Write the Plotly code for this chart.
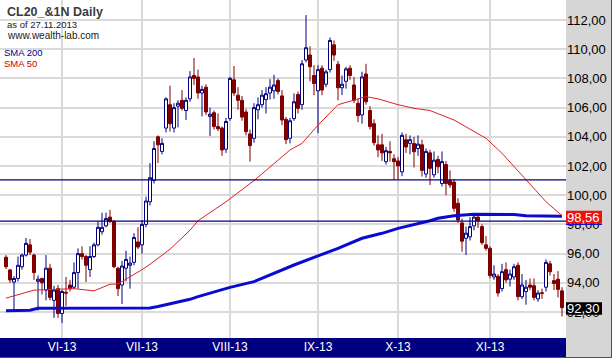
import pandas as pd
import plotly.graph_objects as go

# ---------------- data ----------------
holidays = ["2013-05-27", "2013-07-04", "2013-09-02"]
dates = [d.strftime("%Y-%m-%d") for d in pd.bdate_range("2013-05-13", "2013-11-27")
         if d.strftime("%Y-%m-%d") not in holidays]

opens = [95.75, 94.88, 94.05, 94.3, 95.1, 95.9, 96.6, 95.9, 94.1, 94.3,
         93.5, 95.0, 92.8, 93.6, 91.9, 93.35, 93.85, 93.7, 94.7, 96.0,
         95.8, 94.9, 95.8, 96.6, 97.5, 97.9, 98.5, 98.2, 95.0, 93.85,
         95.0, 95.2, 95.4, 96.8, 96.6, 98.0, 99.55, 101.0, 104.0, 103.0,
         104.6, 106.2, 104.6, 106.1, 106.5, 105.8, 106.6, 108.2, 108.1, 107.0,
         107.4, 105.4, 105.65, 104.7, 104.6, 103.15, 105.25, 107.9, 106.85, 106.5,
         105.7, 104.2, 103.9, 105.85, 106.2, 106.55, 107.0, 107.15, 107.85, 106.8,
         105.2, 103.9, 105.25, 106.9, 106.2, 109.26, 109.6, 108.2, 107.15, 108.7,
         107.6, 108.6, 110.3, 108.97, 107.36, 107.8, 108.7, 107.55, 106.3, 105.5,
         108.3, 105.8, 104.9, 103.45, 103.45, 102.3, 103.0, 102.5, 102.35, 101.6,
         103.8, 103.55, 103.55, 103.2, 103.45, 101.45, 102.9, 101.4, 102.45, 100.8,
         102.1, 101.0, 100.9, 99.45, 98.1, 97.05, 97.15, 97.9, 98.5, 97.85,
         96.6, 96.36, 94.4, 94.45, 93.6, 94.9, 94.25, 94.4, 95.2, 93.05,
         93.4, 93.85, 93.8, 92.9, 93.32, 93.7, 95.3, 94.15, 94.25, 93.45]
highs = [95.9, 94.95, 94.45, 95.8, 96.0, 97.07, 97.0, 96.0, 94.5, 94.35,
         95.9, 95.3, 93.8, 93.85, 93.5, 94.4, 94.2, 95.4, 96.36, 96.5,
         95.9, 96.5, 96.75, 98.2, 98.8, 98.8, 99.0, 98.3, 95.1, 95.5,
         96.2, 95.8, 97.4, 97.8, 98.3, 99.9, 102.2, 103.7, 104.1, 103.9,
         106.7, 107.5, 106.3, 106.5, 107.2, 106.7, 108.5, 109.4, 108.6, 107.5,
         107.6, 106.0, 105.8, 105.6, 104.7, 105.3, 108.1, 108.85, 107.4, 106.8,
         105.9, 104.5, 106.3, 106.7, 107.2, 107.4, 107.95, 108.25, 108.0, 107.2,
         105.35, 105.3, 106.98, 107.1, 109.26, 112.34, 110.2, 108.9, 108.9, 108.9,
         108.6, 110.8, 110.6, 109.2, 108.2, 108.8, 108.9, 108.1, 106.6, 108.46,
         109.0, 106.1, 105.2, 104.1, 104.2, 103.3, 103.7, 102.8, 102.6, 104.3,
         104.2, 104.1, 104.0, 104.1, 103.8, 103.2, 103.1, 103.0, 102.7, 103.0,
         102.35, 101.7, 101.1, 99.8, 98.4, 97.85, 98.5, 98.76, 98.6, 98.0,
         97.2, 96.5, 95.2, 94.6, 95.3, 95.4, 94.9, 95.3, 95.4, 94.6,
         94.2, 94.3, 94.3, 93.5, 93.6, 95.6, 95.5, 94.6, 94.8, 93.7]
lows = [94.95, 94.0, 92.1, 94.1, 94.9, 95.8, 95.9, 94.2, 92.1, 93.2,
        92.8, 92.8, 91.6, 91.6, 91.25, 92.4, 93.4, 93.6, 93.6, 95.6,
        94.05, 94.4, 95.7, 96.5, 97.3, 97.8, 98.1, 95.0, 93.1, 92.55,
        94.1, 93.6, 95.2, 96.3, 96.0, 97.8, 99.3, 100.8, 102.2, 102.8,
        104.3, 104.35, 104.3, 104.65, 105.8, 105.15, 106.4, 107.55, 106.6, 105.4,
        105.5, 104.05, 104.5, 104.4, 102.7, 102.9, 105.1, 106.8, 105.85, 105.1,
        104.1, 102.3, 103.6, 105.2, 106.0, 105.6, 106.55, 106.6, 106.9, 104.8,
        103.5, 103.55, 105.1, 105.6, 105.85, 109.1, 107.8, 106.85, 104.25, 106.85,
        107.4, 108.4, 109.2, 106.5, 106.86, 107.3, 107.9, 106.3, 105.0, 104.9,
        106.2, 104.5, 103.4, 102.6, 102.35, 102.1, 102.3, 101.04, 101.1, 101.3,
        102.9, 102.8, 101.9, 102.7, 101.27, 101.2, 100.7, 101.2, 101.5, 100.6,
        100.0, 100.5, 98.87, 98.1, 96.13, 95.9, 96.9, 97.6, 97.75, 96.6,
        96.2, 94.3, 94.2, 93.05, 93.4, 94.0, 93.75, 94.2, 92.8, 92.9,
        92.5, 93.5, 92.8, 92.7, 92.9, 93.4, 94.5, 93.5, 93.0, 91.7]
closes = [95.1, 94.2, 94.3, 95.2, 95.9, 96.7, 96.1, 94.7, 94.25, 94.0,
          95.0, 93.0, 93.5, 91.9, 93.4, 93.3, 93.6, 94.7, 96.0, 95.8,
          95.2, 95.8, 96.6, 97.8, 97.8, 98.4, 98.2, 95.1, 93.6, 95.15,
          95.6, 95.35, 97.1, 96.45, 98.0, 99.6, 101.2, 103.2, 103.45, 103.55,
          106.6, 104.9, 106.0, 106.3, 105.95, 106.5, 108.1, 108.0, 107.0, 107.25,
          105.7, 105.55, 104.7, 104.55, 103.1, 105.05, 108.0, 107.0, 106.5, 105.35,
          104.35, 103.4, 106.0, 106.2, 106.85, 106.95, 107.4, 107.55, 107.1, 105.15,
          103.8, 105.1, 106.4, 105.95, 109.0, 110.1, 108.8, 107.65, 108.6, 107.2,
          108.45, 110.6, 109.6, 107.36, 107.6, 108.65, 108.2, 106.5, 105.45, 108.1,
          106.4, 104.7, 103.6, 103.1, 102.9, 103.05, 102.9, 102.3, 102.0, 104.1,
          103.3, 103.8, 102.98, 103.5, 101.7, 103.0, 101.84, 102.4, 101.95, 102.3,
          100.8, 100.7, 99.1, 98.3, 96.85, 97.4, 97.85, 98.5, 98.25, 96.75,
          96.36, 94.5, 94.6, 93.3, 94.76, 94.2, 94.6, 95.1, 93.05, 93.85,
          93.7, 93.7, 93.0, 93.3, 93.28, 95.4, 94.76, 93.95, 93.55, 92.3]

sma50_idx = [0, 7, 17, 22, 26, 28, 34, 36, 41, 46, 48, 55, 62, 68, 71, 74, 78,
             83, 87, 90, 93, 98, 102, 106, 112, 120, 124, 130, 135, 139]
sma50_val = [92.95, 93.5, 93.6, 93.45, 93.9, 93.92, 94.9, 95.27, 96.3, 97.6,
             98.25, 99.55, 101.0, 102.4, 103.1, 103.55, 104.8, 106.2, 106.5,
             106.75, 106.6, 106.2, 105.95, 105.8, 105.15, 103.9, 102.87, 101.04,
             99.55, 98.6]
sma200_idx = [0, 6, 8, 20, 36, 38, 42, 46, 48, 56, 62, 67, 72, 78, 83, 89, 94,
              98, 103, 106, 108, 112, 117, 127, 130, 139]
sma200_val = [92.08, 92.12, 92.25, 92.28, 92.28, 92.38, 92.6, 92.87, 93.05,
              93.69, 94.08, 94.65, 95.22, 95.84, 96.36, 97.05, 97.39, 97.73,
              98.03, 98.25, 98.42, 98.6, 98.7, 98.68, 98.6, 98.56]

levels = [101.05, 98.22]
y_ticks = [92, 94, 96, 98, 100, 102, 104, 106, 108, 110, 112]
y_ticktext = ["92,00", "94,00", "96,00", "98,00", "100,00", "102,00",
              "104,00", "106,00", "108,00", "110,00", "112,00"]
month_labels = ["VI-13", "VII-13", "VIII-13", "IX-13", "X-13", "XI-13"]
month_starts = []
for d in dates:
    if d[:7] not in [m[:7] for m in month_starts] and d[5:7] != "05":
        month_starts.append(d)

sma50_label = "98,56"
close_label = "92,30"
sma_label_value = 98.56
close_value = 92.30

# ---------------- layout constants ----------------
W, H = 612, 358
PL, PR, PT, PB = 0, 46, 0, 20
PW, PH = W - PL - PR, H - PT - PB
Y_RANGE = [90.22, 113.37]
FONT = "Liberation Sans, Arial, sans-serif"


def xp(px):
    return (px - PL) / PW


def yp(py):
    return 1 - (py - PT) / PH


def ypx(v):
    return PT + (Y_RANGE[1] - v) / (Y_RANGE[1] - Y_RANGE[0]) * PH


fig = go.Figure()

fig.add_trace(go.Candlestick(
    x=dates, open=opens, high=highs, low=lows, close=closes,
    increasing=dict(line=dict(color="#000080", width=1), fillcolor="#ffffff"),
    decreasing=dict(line=dict(color="#800000", width=1), fillcolor="#800000"),
    whiskerwidth=0, showlegend=False, hoverinfo="skip"))

fig.add_trace(go.Scatter(
    x=[dates[i] for i in sma200_idx], y=sma200_val, mode="lines",
    line=dict(color="#0a0ad0", width=3), showlegend=False, hoverinfo="skip"))
fig.add_trace(go.Scatter(
    x=[dates[i] for i in sma50_idx], y=sma50_val, mode="lines",
    line=dict(color="#dd2222", width=1), showlegend=False, hoverinfo="skip"))

shapes = []
for lv in levels:
    shapes.append(dict(type="line", xref="paper", yref="y", x0=0, x1=1, y0=lv, y1=lv,
                       line=dict(color="#000080", width=1.2), layer="above"))
# bottom navy band
shapes.append(dict(type="rect", xref="paper", yref="paper", x0=0, x1=1,
                   y0=yp(H - 1), y1=0, fillcolor="#000080", line=dict(width=0),
                   layer="below"))
# value boxes on the price scale
for val, col in [(sma_label_value, "#ee1111"), (close_value, "#000000")]:
    c = ypx(val) + 0.8
    shapes.append(dict(type="rect", xref="paper", yref="paper", x0=xp(566), x1=xp(602),
                       y0=yp(c + 6.3), y1=yp(c - 6.3), fillcolor=col,
                       line=dict(width=0), layer="above"))
shapes.append(dict(type="line", xref="paper", yref="paper", x0=xp(566), x1=xp(602),
                   y0=yp(ypx(sma_label_value) + 8), y1=yp(ypx(sma_label_value) + 8),
                   line=dict(color="#1010cc", width=1.5), layer="above"))
# outer border right / bottom
shapes.append(dict(type="line", xref="paper", yref="paper", x0=xp(W - 0.5), x1=xp(W - 0.5),
                   y0=yp(0), y1=yp(H), line=dict(color="#505050", width=1), layer="above"))
shapes.append(dict(type="line", xref="paper", yref="paper", x0=xp(0), x1=xp(W),
                   y0=yp(H - 0.5), y1=yp(H - 0.5), line=dict(color="#505050", width=1),
                   layer="above"))

annotations = []
for text, val in [(sma50_label, sma_label_value), (close_label, close_value)]:
    annotations.append(dict(xref="paper", yref="paper", x=xp(566), y=yp(ypx(val) + 0.8),
                            xanchor="left", yanchor="middle", text=text, showarrow=False,
                            font=dict(family=FONT, size=13, color="#ffffff"),
                            borderpad=0))

texts = [
    ("CL20_&1N Daily", 6, 11.5, 12.5, "#3c3c3c", True),
    ("as of 27.11.2013", 6, 24, 9.5, "#202020", False),
    ("www.wealth-lab.com", 6, 35.5, 10, "#202020", False),
    ("SMA 200", 3, 52.5, 9.5, "#00008b", False),
    ("SMA 50", 3, 63.5, 9.5, "#cc0000", False),
]
for t, x, y, s, c, b in texts:
    annotations.append(dict(xref="paper", yref="paper", x=xp(x), y=yp(y),
                            xanchor="left", yanchor="middle", showarrow=False,
                            text=("<b>%s</b>" % t) if b else t, borderpad=0,
                            font=dict(family=FONT, size=s, color=c)))

fig.update_layout(
    width=W, height=H,
    margin=dict(l=PL, r=PR, t=PT, b=PB, pad=0),
    paper_bgcolor="#d6d6d6", plot_bgcolor="#ffffff",
    shapes=shapes, annotations=annotations, boxgap=0.25, boxgroupgap=0,
    xaxis=dict(type="category", categoryorder="array", categoryarray=dates,
               range=[-1.5, 140], rangeslider=dict(visible=False),
               tickmode="array", tickvals=month_starts, ticktext=month_labels,
               showgrid=True, gridcolor="#dadada", gridwidth=1.5,
               ticks="", showline=False, zeroline=False,
               tickfont=dict(family=FONT, size=12, color="#ffffff")),
    yaxis=dict(range=Y_RANGE, side="right", tickmode="array", tickvals=y_ticks,
               ticktext=y_ticktext, showgrid=True, gridcolor="#dadada", gridwidth=1.5,
               ticks="", showline=False, zeroline=False, ticklabelstandoff=0,
               tickfont=dict(family=FONT, size=13, color="#000000")),
)

fig.write_html("out.html", config={"displayModeBar": False},
               post_script="document.body.style.margin='0';document.body.style.padding='0';")
